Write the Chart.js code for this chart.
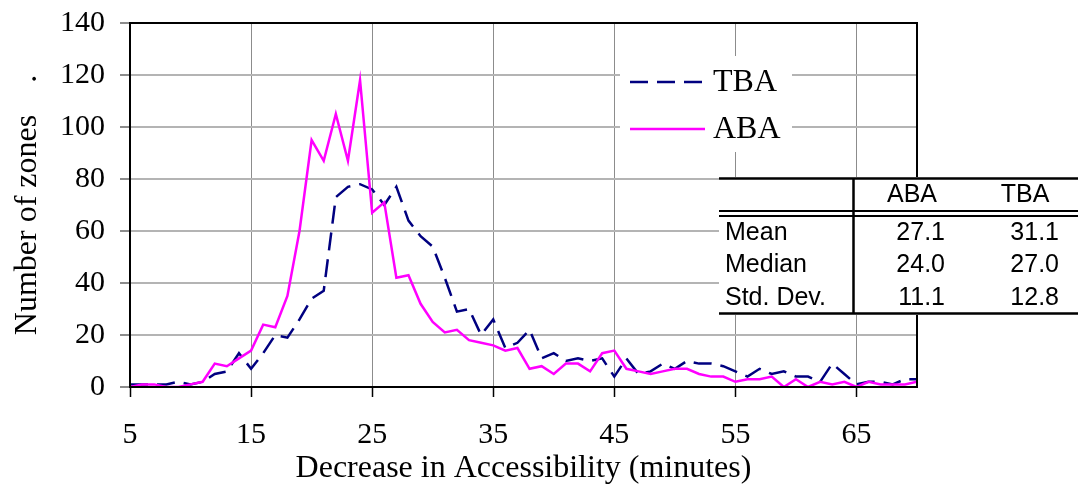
<!DOCTYPE html>
<html>
<head>
<meta charset="utf-8">
<script src="https://cdn.jsdelivr.net/npm/chart.js@4.4.0/dist/chart.umd.min.js"></script>
<style>
  html, body { margin: 0; padding: 0; background: #fff; }
  #wrap { position: relative; width: 1078px; height: 492px; }
</style>
</head>
<body>
<div id="wrap"><canvas id="chart" width="1078" height="492"></canvas></div>
<script>
// decrease in accessibility, one bin per minute
const minutes = [5, 6, 7, 8, 9, 10, 11, 12, 13, 14,
  15, 16, 17, 18, 19, 20, 21, 22, 23, 24,
  25, 26, 27, 28, 29, 30, 31, 32, 33, 34,
  35, 36, 37, 38, 39, 40, 41, 42, 43, 44,
  45, 46, 47, 48, 49, 50, 51, 52, 53, 54,
  55, 56, 57, 58, 59, 60, 61, 62, 63, 64,
  65, 66, 67, 68, 69, 70];

// number of zones per bin
const tbaZones = [1, 1, 1, 1, 2, 1, 2, 5, 6, 13,
  7, 13, 20, 19, 26, 34, 37, 73, 77, 78,
  76, 70, 77, 64, 58, 54, 42, 29, 30, 20,
  26, 15, 17, 22, 11, 13, 10, 11, 10, 11,
  4, 11, 5, 6, 9, 7, 10, 9, 9, 8,
  6, 4, 7, 5, 6, 4, 4, 2, 9, 5,
  1, 2, 2, 1, 3, 3];
const abaZones = [0, 1, 1, 0, 0, 1, 2, 9, 8, 11,
  14, 24, 23, 35, 60, 95, 87, 105, 87, 118,
  67, 71, 42, 43, 32, 25, 21, 22, 18, 17,
  16, 14, 15, 7, 8, 5, 9, 9, 6, 13,
  14, 7, 6, 5, 6, 7, 7, 5, 4, 4,
  2, 3, 3, 4, 0, 3, 0, 2, 1, 2,
  0, 2, 1, 1, 1, 2];

const xTicks = [5, 15, 25, 35, 45, 55, 65];

// summary table
const statNames = ['Mean', 'Median', 'Std. Dev.'];
const statHeads = ['ABA', 'TBA'];
const abaStats = ['27.1', '24.0', '11.1'];
const tbaStats = ['31.1', '27.0', '12.8'];

const serif = '"Liberation Serif", "Times New Roman", serif';
const sans = '"Liberation Sans", Arial, sans-serif';

const toPoints = ys => minutes.map((m, i) => ({ x: m, y: ys[i] }));

// top and right edges of the plot frame
const frame = {
  id: 'frame',
  afterDatasetsDraw(chart) {
    const { ctx, chartArea: a } = chart;
    ctx.save();
    ctx.strokeStyle = '#000';
    ctx.lineWidth = 2;
    ctx.strokeRect(a.left, a.top, a.right - a.left, a.bottom - a.top);
    ctx.restore();
  }
};

// legend drawn inside the plot with a white box
const legendBox = {
  id: 'legendBox',
  afterDraw(chart) {
    const ctx = chart.ctx;
    ctx.save();
    ctx.fillStyle = '#fff';
    ctx.fillRect(620, 56, 172, 96);
    const items = [chart.data.datasets[1], chart.data.datasets[0]];
    items.forEach((ds, i) => {
      const y = 82 + i * 47;
      ctx.strokeStyle = ds.borderColor;
      ctx.lineWidth = ds.borderWidth;
      ctx.setLineDash(ds.borderDash || []);
      ctx.beginPath();
      ctx.moveTo(630, y);
      ctx.lineTo(705, y);
      ctx.stroke();
      ctx.setLineDash([]);
      ctx.fillStyle = '#000';
      ctx.font = '32px ' + serif;
      ctx.textBaseline = 'middle';
      ctx.textAlign = 'left';
      ctx.fillText(ds.label, 713, y + 1);
    });
    ctx.restore();
  }
};

// statistics table over the right side
const statTable = {
  id: 'statTable',
  afterDraw(chart) {
    const ctx = chart.ctx;
    ctx.save();
    ctx.fillStyle = '#fff';
    ctx.fillRect(719, 177, 359, 138);
    ctx.strokeStyle = '#000';
    ctx.lineWidth = 2.5;
    ctx.beginPath();
    ctx.moveTo(719, 178.5); ctx.lineTo(1078, 178.5);
    ctx.moveTo(719, 313.5); ctx.lineTo(1078, 313.5);
    ctx.moveTo(853.5, 178.5); ctx.lineTo(853.5, 313.5);
    ctx.stroke();
    ctx.lineWidth = 2;
    ctx.beginPath();
    ctx.moveTo(719, 211); ctx.lineTo(1078, 211);
    ctx.moveTo(719, 216); ctx.lineTo(1078, 216);
    ctx.stroke();

    ctx.fillStyle = '#000';
    ctx.font = '25px ' + sans;
    ctx.textBaseline = 'middle';
    ctx.textAlign = 'center';
    ctx.fillText(statHeads[0], 912, 195);
    ctx.fillText(statHeads[1], 1025, 195);
    statNames.forEach((name, i) => {
      const y = 233 + i * 32.5;
      ctx.textAlign = 'left';
      ctx.fillText(name, 725, y);
      ctx.textAlign = 'right';
      ctx.fillText(abaStats[i], 945, y);
      ctx.fillText(tbaStats[i], 1059, y);
    });
    ctx.restore();
  }
};

const ctx = document.getElementById('chart').getContext('2d');
new Chart(ctx, {
  type: 'line',
  data: {
    datasets: [
      {
        label: 'ABA',
        data: toPoints(abaZones),
        borderColor: '#ff00ff',
        borderWidth: 2.5,
        pointRadius: 0,
        tension: 0,
        fill: false
      },
      {
        label: 'TBA',
        data: toPoints(tbaZones),
        borderColor: '#000080',
        borderWidth: 2.5,
        borderDash: [18, 9],
        pointRadius: 0,
        tension: 0,
        fill: false
      }
    ]
  },
  options: {
    responsive: false,
    animation: false,
    devicePixelRatio: 1,
    layout: { padding: { top: 23, right: 161, left: 0, bottom: 0 } },
    plugins: {
      legend: { display: false },
      tooltip: { enabled: false }
    },
    scales: {
      x: {
        type: 'linear',
        min: 5,
        max: 70,
        afterBuildTicks: s => { s.ticks = xTicks.map(v => ({ value: v })); },
        afterFit: s => { s.height = 105; },
        grid: { color: '#8c8c8c', lineWidth: 1, tickColor: '#000', tickLength: 10, tickWidth: 1.5 },
        border: { color: '#000', width: 2 },
        ticks: { color: '#000', font: { family: serif, size: 30 }, padding: 20, maxRotation: 0 },
        title: {
          display: true,
          text: 'Decrease in Accessibility (minutes)',
          color: '#000',
          font: { family: serif, size: 32 },
          padding: { top: 0, bottom: 4 }
        }
      },
      y: {
        min: 0,
        max: 140,
        ticks: { stepSize: 20, color: '#000', font: { family: serif, size: 30 }, padding: 15 },
        afterFit: s => { s.width = 130; s.paddingTop = 0; s.paddingBottom = 0; },
        grid: { color: '#b4b4b4', lineWidth: 2, tickColor: '#666', tickLength: 10, tickWidth: 1.5 },
        border: { color: '#000', width: 2 },
        title: {
          display: true,
          text: 'Number of zones    .',
          color: '#000',
          font: { family: serif, size: 32 },
          padding: { top: 8, bottom: 0 }
        }
      }
    }
  },
  plugins: [frame, legendBox, statTable]
});
</script>
</body>
</html>
